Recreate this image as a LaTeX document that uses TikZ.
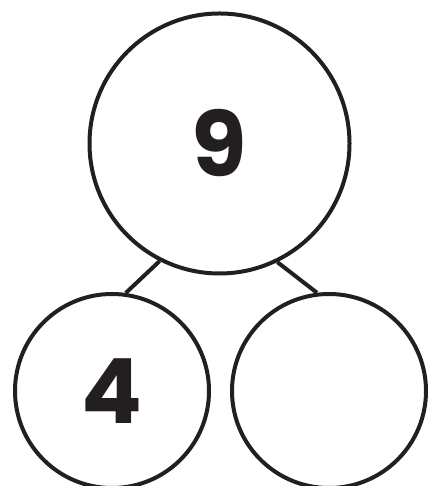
\documentclass[tikz,border=0pt]{standalone}
\usepackage{fontspec}
\setmainfont{Poppins}
\definecolor{ink}{HTML}{231F20}
\begin{document}
\begin{tikzpicture}[x=1pt,y=1pt,
  bond/.style={circle,draw=ink,line width=4pt,inner sep=0pt,text=ink,
    font=\fontsize{90}{90}\selectfont\bfseries},
  link/.style={draw=ink,line width=4pt}]
  \useasboundingbox (0,0) rectangle (430,486);
  \node[bond,minimum size=260pt] (whole) at (219.5,342.5) {9};
  \node[bond,minimum size=194pt] (partA) at (112,95) {4};
  \node[bond,minimum size=194pt] (partB) at (329,95) {};
  \draw[link] (whole.243.5) -- (partA.82.5);
  \draw[link] (whole.296.5) -- (partB.97.5);
\end{tikzpicture}
\end{document}
